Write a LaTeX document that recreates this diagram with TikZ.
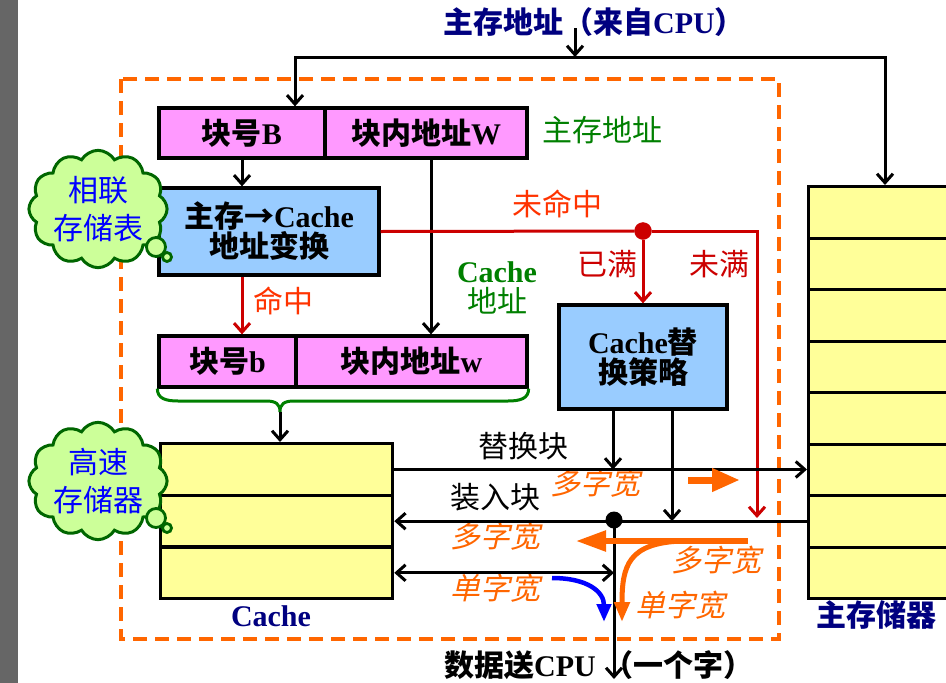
\documentclass[tikz,border=0pt]{standalone}
\usepackage{fontspec}
\setmainfont{Liberation Serif}
\newfontfamily\cjk{Noto Sans CJK SC}
\newfontfamily\cjkit{Noto Sans CJK SC}[FakeSlant=0.22]
\usetikzlibrary{arrows.meta,shapes.symbols}
\newcommand\zw[1]{{\cjk #1}}
\newcommand\zwi[1]{{\cjkit #1}}
\definecolor{pinkf}{HTML}{FF99FF}
\definecolor{bluef}{HTML}{99CCFF}
\definecolor{yellf}{HTML}{FFFF99}
\definecolor{cloudf}{HTML}{CCFF99}
\definecolor{cloudd}{HTML}{006600}
\definecolor{navytxt}{HTML}{000080}
\definecolor{grn}{HTML}{008000}
\definecolor{darkred}{HTML}{CC0000}
\definecolor{hitred}{HTML}{FF3300}
\definecolor{orng}{HTML}{FF6600}
\definecolor{barg}{HTML}{666666}
\begin{document}
\fontsize{30}{30}\selectfont
\begin{tikzpicture}[x=1pt,y=-1pt,
  box/.style={draw, line width=3.3pt, inner sep=0pt, font=\bfseries, align=center},
  pinkbox/.style={box, fill=pinkf, minimum height=50},
  bluebox/.style={box, fill=bluef},
  yellbox/.style={draw, line width=3.3pt, fill=yellf, inner sep=0pt},
  lbl/.style={inner sep=0pt, align=center},
  widelbl/.style={lbl, text=orng},
  wire/.style={line width=3pt},
  arr/.style={wire, -{Straight Barb[length=9pt,width=16pt]}},
  dblarr/.style={wire, {Straight Barb[length=9pt,width=16pt]}-{Straight Barb[length=9pt,width=16pt]}},
  redarr/.style={arr, draw=darkred},
  brace/.style={draw=grn, line width=3pt},
  puff/.style={cloud, cloud puffs=12, cloud puff arc=120, aspect=1.25,
    draw=cloudd, fill=cloudf, line width=3pt, inner sep=0pt,
    minimum width=135, minimum height=104, text=blue, align=center,
    font=\fontsize{30}{38}\selectfont},
  bubble/.style={circle, draw=cloudd, fill=cloudf, line width=2.8pt, inner sep=0pt},
  dot/.style={circle, fill, inner sep=0pt, minimum size=17}
]
\useasboundingbox (0,0) rectangle (946,683);
\fill[white] (0,0) rectangle (946,683);
\fill[barg] (0,0) rectangle (18,683);

% cache unit boundary
\draw[orng, line width=3.3pt, dash pattern=on 14pt off 8pt] (121,79) rectangle (779,639);

% address registers and the translation unit
\node[pinkbox, minimum width=166] (ba) at (242,133) {\zw{块号}B};
\node[pinkbox, minimum width=202] (bw) at (426,133) {\zw{块内地址}W};
\node[bluebox, minimum width=220, minimum height=87] (conv) at (269,231.5) {\zw{主存→}Cache\\\zw{地址变换}};
\node[pinkbox, minimum width=137, minimum height=51] (cb) at (227.5,361.5) {\zw{块号}b};
\node[pinkbox, minimum width=231, minimum height=51] (cw) at (411.5,361.5) {\zw{块内地址}w};
\node[bluebox, minimum width=168, minimum height=104] (rep) at (643,357) {Cache\zw{替}\\\zw{换策略}};

% cache lines
\foreach \i in {1,2,3}
  \node[yellbox, minimum width=232, minimum height=51.67, anchor=north west] (c\i) at (159,{442+(\i-1)*51.67}) {};
% main memory blocks
\foreach \i in {1,...,8}
  \node[yellbox, minimum width=153, minimum height=51.5, anchor=north west] (m\i) at (807,{185+(\i-1)*51.5}) {};

% junction points
\coordinate (in) at (575,28);
\coordinate (bus) at (575,57);
\coordinate (tip) at (280,412);
\coordinate (nf) at (757,518);
\coordinate (out) at (614,679);
\node[dot, draw=darkred, fill=darkred] (split) at (643,231) {};
\node[dot] (jn) at (614,520) {};

% texts
\node[lbl, text=navytxt, font=\bfseries] (src) at (594,22) {\zw{主存地址（来自}CPU\zw{）}};
\node[lbl, text=grn] (mal) at (602,130) {\zw{主存地址}};
\node[lbl, text=hitred] (miss) at (557,204) {\zw{未命中}};
\node[lbl, text=darkred] (full) at (607,264) {\zw{已满}};
\node[lbl, text=darkred] (nfull) at (719,264) {\zw{未满}};
\node[lbl, text=hitred] (hit) at (283,301) {\zw{命中}};
\node[lbl, text=grn] (cal) at (497,288) {\textbf{Cache}\\\zw{地址}};
\node[lbl] (rpl) at (523,446) {\zw{替换块}};
\node[lbl] (ld) at (495,497) {\zw{装入块}};
\node[lbl, text=navytxt, font=\bfseries] (cachelbl) at (271,616) {Cache};
\node[lbl, text=navytxt, font=\bfseries] (mmlbl) at (876,615) {\zw{主存储器}};
\node[lbl, font=\bfseries] (dout) at (599,665) {\zw{数据送}CPU\kern8pt\zw{（一个字）}};
\node[widelbl] (w1) at (595,483) {\zwi{多字宽}};
\node[widelbl] (w2) at (495,536) {\zwi{多字宽}};
\node[widelbl] (w3) at (716,560) {\zwi{多字宽}};
\node[widelbl] (s1) at (495,588) {\zwi{单字宽}};
\node[widelbl] (s2) at (680,605) {\zwi{单字宽}};

% address paths
\draw[arr] (in) -- (bus);
\draw[arr] (bus) -| ([xshift=53]ba.north);
\draw[arr] (bus) -| ([xshift=78]m1.north west);
\draw[arr] (ba.south) -- (ba.south |- conv.north);
\draw[arr] ([xshift=5]bw.south) -- ([xshift=5]bw.south |- cw.north);
\draw[redarr] (conv.south -| ba.south) -- (cb.north -| ba.south);
\draw[darkred, line width=3pt] (conv.east) -- (split);
\draw[redarr] (split) -| (nf);
\draw[redarr] (split) -- (rep.north);

% brace joining the cache address fields
\draw[brace] (cb.south west) .. controls +(0,10) and +(-12,0) .. (178,401) -- (266,401)
  .. controls (276,401) and (280,404) .. (tip)
  .. controls (280,404) and (284,401) .. (294,401) -- (508,401)
  .. controls +(12,0) and +(0,10) .. (cw.south east);
\draw[arr] (tip) -- (tip |- c1.north);

% data paths
\draw[arr] (c1.east) -- (c1.east -| m6.west);
\draw[arr] ([xshift=-30]rep.south) -- ([xshift=-30]rep.south |- c1.east);
\draw[arr] ([xshift=29]rep.south) -- ([xshift=29]rep.south |- c2.east);
\draw[arr] (m7.west |- c2.east) -- (c2.east);
\draw[dblarr] (c3.east) -- (c3.east -| jn);
\draw[arr] (jn.center) -- (out);

% width indicators
\draw[orng, line width=7pt, -{Triangle[length=28pt,width=22pt]}] (688,480) -- (740,480);
\draw[orng, line width=5.5pt, -{Triangle[length=30pt,width=20pt]}] (748,541) -- (576,541);
\draw[orng, line width=5pt, -{Triangle[length=20pt,width=15pt]}] (682,541) .. controls (628,543) and (622,566) .. (622,622);
\draw[blue, line width=4.5pt, -{Triangle[length=18pt,width=14pt]}] (552,578) .. controls (588,578) and (604,592) .. (604,622);

% thought clouds
\node[puff] (cl1) at (98,209) {\zw{相联}\\\zw{存储表}};
\node[bubble, minimum size=19] (cl1a) at (156,247) {};
\node[bubble, minimum size=9] (cl1b) at (167,257) {};
\node[puff] (cl2) at (98,481) {\zw{高速}\\\zw{存储器}};
\node[bubble, minimum size=19] (cl2a) at (156,518) {};
\node[bubble, minimum size=9] (cl2b) at (167,528) {};
\end{tikzpicture}
\end{document}
